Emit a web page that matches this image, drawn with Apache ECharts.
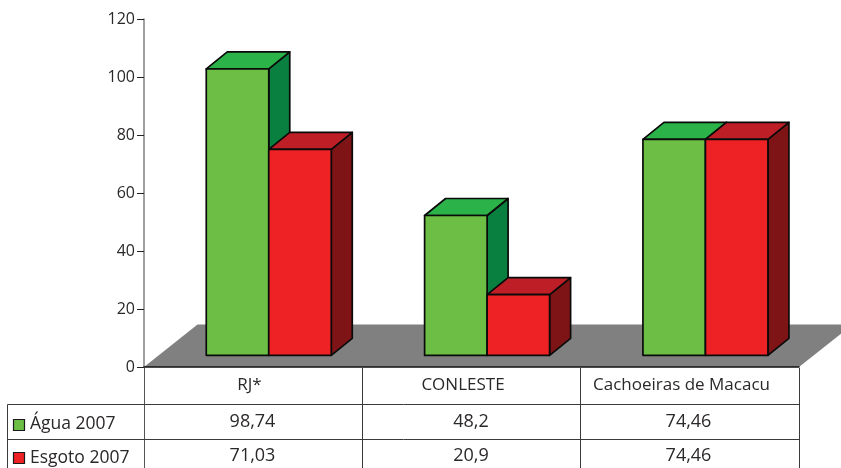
<!DOCTYPE html>
<html>
<head>
<meta charset="utf-8">
<style>html,body{margin:0;padding:0;background:#fff}#c{width:841px;height:468px}</style>
<script src="https://cdn.jsdelivr.net/npm/echarts@6/dist/echarts.min.js"></script>
</head>
<body>
<div id="c"></div>
<script>
const categories = ['RJ*', 'CONLESTE', 'Cachoeiras de Macacu'];
const aguaName = 'Água 2007';
const esgotoName = 'Esgoto 2007';
const agua = [98.74, 48.2, 74.46];
const esgoto = [71.03, 20.9, 74.46];
const yTicks = [0, 20, 40, 60, 80, 100, 120];

const FONT = '"Open Sans", "Noto Sans", sans-serif';
const INK = '#2b2829';
const BAR_W = 62.5, SHIFT_X = 15.6, SHIFT_Y = 11.7, DX = 21, DY = 17;
const FLOOR_DX = 53.5, FLOOR_DY = 42.5;
const palette = {
  agua: {front: '#6dbe45', top: '#2bb34a', side: '#0a8040'},
  esgoto: {front: '#ee2224', top: '#be1e26', side: '#7f1416'}
};
const fmt = v => String(v).replace('.', ',');

function barRender(idx, colors) {
  return function (params, api) {
    const p = api.coord([api.value(0), api.value(1)]);
    const z = api.coord([api.value(0), 0]);
    const x0 = p[0] + SHIFT_X - BAR_W + idx * BAR_W;
    const x1 = x0 + BAR_W;
    const yT = p[1] - SHIFT_Y;
    const yB = z[1] - SHIFT_Y;
    const st = c => ({fill: c, stroke: '#0a0a0a', lineWidth: 1.7, lineJoin: 'round'});
    return {
      type: 'group',
      children: [
        {type: 'polygon', shape: {points: [[x1, yT], [x1 + DX, yT - DY], [x1 + DX, yB - DY], [x1, yB]]}, style: st(colors.side)},
        {type: 'polygon', shape: {points: [[x0, yT], [x0 + DX, yT - DY], [x1 + DX, yT - DY], [x1, yT]]}, style: st(colors.top)},
        {type: 'rect', shape: {x: x0, y: yT, width: BAR_W, height: yB - yT}, style: st(colors.front)}
      ]
    };
  };
}

function floorRender(params, api) {
  const a = api.coord([0, 0]);
  const b = api.coord([categories.length - 1, 0]);
  const band = (b[0] - a[0]) / (categories.length - 1);
  const left = a[0] - band / 2, right = b[0] + band / 2, y = a[1];
  return {
    type: 'polygon',
    shape: {points: [[left, y], [left + FLOOR_DX, y - FLOOR_DY], [right + FLOOR_DX, y - FLOOR_DY], [right, y]]},
    style: {fill: '#808080', stroke: 'none'}
  };
}

const line = (x1, y1, x2, y2, c) => ({
  type: 'line', silent: true, z: 20,
  shape: {x1, y1, x2, y2}, style: {stroke: c || '#3a3a3a', lineWidth: 1}
});
const label = (text, x, y, align, size) => ({
  type: 'text', silent: true, z: 21, x, y,
  style: {text, fill: INK, font: size + 'px ' + FONT, align: align || 'center', verticalAlign: 'middle'}
});
const swatch = (x, y, c) => ({
  type: 'rect', silent: true, z: 21,
  shape: {x, y, width: 11, height: 11},
  style: {fill: c, stroke: '#1a1a1a', lineWidth: 1.2}
});

const colC = [252.5, 471, 688.5];
const catC = [249.5, 463, 681.5];
const graphics = [
  line(144.5, 368, 144.5, 468, '#555'),
  line(362.5, 368, 362.5, 468),
  line(580.5, 368, 580.5, 468),
  line(799.5, 368, 799.5, 468),
  line(7.5, 404.5, 799.5, 404.5),
  line(7.5, 439.5, 799.5, 439.5),
  line(7.5, 404.5, 7.5, 468),
  swatch(13.5, 419.5, palette.agua.front),
  swatch(13.5, 452.5, palette.esgoto.front),
  label(aguaName, 30, 424.5, 'left', 17.5),
  label(esgotoName, 30, 458.5, 'left', 17.5)
];
categories.forEach((c, i) => graphics.push(label(c, catC[i], 385, 'center', 17)));
agua.forEach((v, i) => graphics.push(label(fmt(v), colC[i], 422, 'center', 18)));
esgoto.forEach((v, i) => graphics.push(label(fmt(v), colC[i], 456, 'center', 18)));

const chart = echarts.init(document.getElementById('c'), null, {renderer: 'canvas'});
chart.setOption({
  animation: false,
  backgroundColor: '#fff',
  grid: {left: 144, right: 42, top: 19, bottom: 101, containLabel: false},
  xAxis: {
    type: 'category',
    data: categories,
    axisLine: {show: true, lineStyle: {color: '#111', width: 1.5}},
    axisTick: {show: false},
    axisLabel: {show: false},
    z: 10
  },
  yAxis: {
    type: 'value', min: 0, max: 120, interval: 20,
    axisLine: {show: true, lineStyle: {color: '#808080', width: 1.5}},
    axisTick: {show: true, length: 7, lineStyle: {color: '#222', width: 1}},
    axisLabel: {show: true, margin: 9, color: INK, fontFamily: FONT, fontSize: 16,
      customValues: yTicks},
    splitLine: {show: false},
    z: 10
  },
  series: [
    {type: 'custom', name: 'Piso', coordinateSystem: 'cartesian2d', clip: false, silent: true, z: 1,
      renderItem: floorRender, data: [[0, 0]], encode: {x: 0, y: 1}},
    {type: 'custom', name: aguaName, coordinateSystem: 'cartesian2d', clip: false, z: 2,
      renderItem: barRender(0, palette.agua),
      data: agua.map((v, i) => [i, v]), encode: {x: 0, y: 1}},
    {type: 'custom', name: esgotoName, coordinateSystem: 'cartesian2d', clip: false, z: 3,
      renderItem: barRender(1, palette.esgoto),
      data: esgoto.map((v, i) => [i, v]), encode: {x: 0, y: 1}}
  ],
  graphic: {elements: graphics}
});
</script>
</body>
</html>
